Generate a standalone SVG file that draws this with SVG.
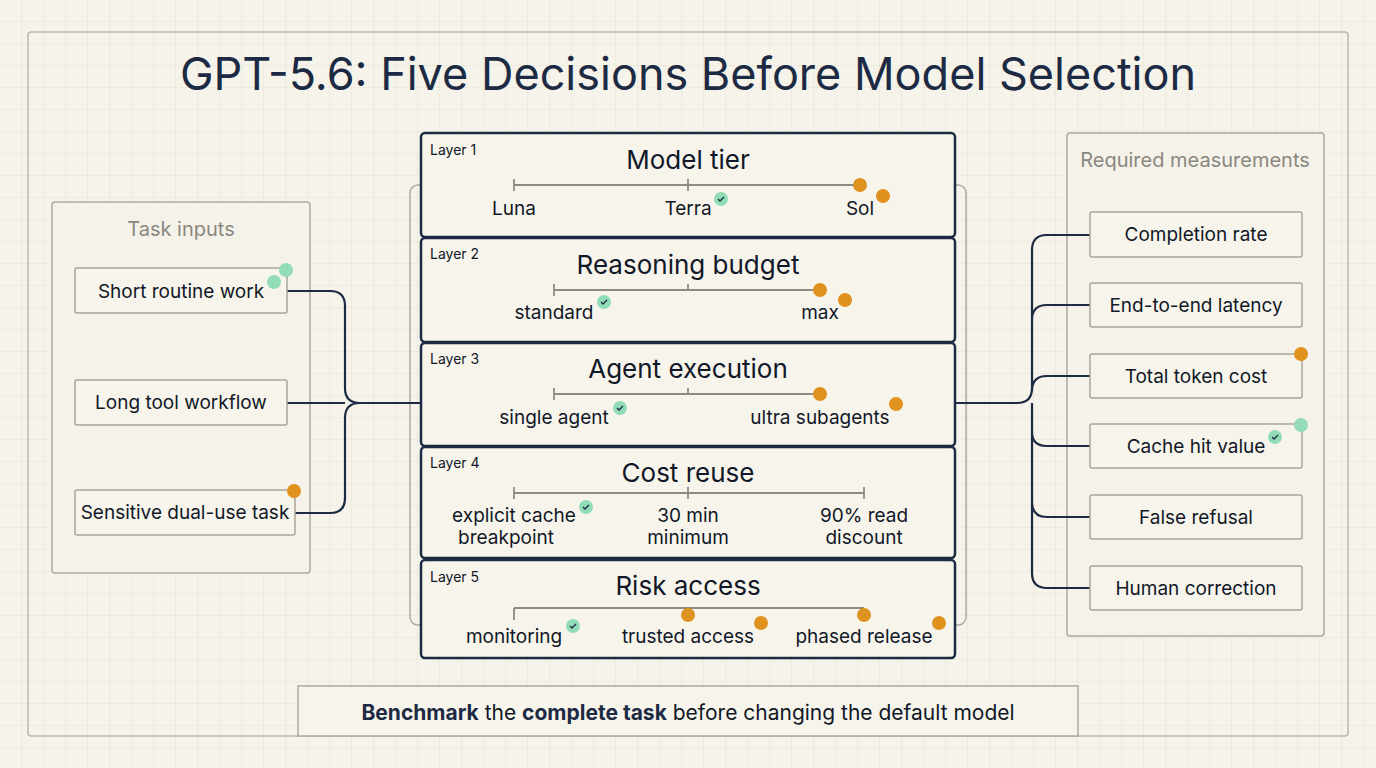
<svg xmlns="http://www.w3.org/2000/svg" width="1376" height="768" viewBox="0 0 1376 768">
<defs>
<pattern id="grid" width="22" height="22" patternUnits="userSpaceOnUse"><path d="M22 0V22H0" fill="none" stroke="#e6e1d2" stroke-width="1"/></pattern>
<style>
text{font-family:"Inter","Liberation Sans",sans-serif;fill:#111827}
.node{fill:#f7f4ec;stroke:#a9a59b;stroke-width:1.5}
.layer{fill:#f7f4ec;stroke:#1c2a44;stroke-width:2.5}
.panel{fill:#f5f2e9;stroke:#aeaaa0;stroke-width:1.5}
.lbl{font-size:19px;text-anchor:middle}
.ttl{font-size:26px;text-anchor:middle}
.lay{font-size:14px}
.bar{stroke:#8f8b82;stroke-width:1.8;fill:none}
.o{fill:#e0921f}
.g{fill:#93dcb8}
.ck{fill:none;stroke:#1c2a44;stroke-width:1.3}
.conn{fill:none;stroke:#1c2a44;stroke-width:2.2}
</style>
</defs>
<rect width="1376" height="768" fill="#f6f3ea"/>
<rect width="1376" height="768" fill="url(#grid)"/>
<rect x="28" y="32" width="1320" height="704" rx="3" fill="none" stroke="#bdb9ae" stroke-width="1.5"/>
<text x="688" y="90" font-size="45" text-anchor="middle" style="fill:#1c2a44">GPT-5.6: Five Decisions Before Model Selection</text>

<g id="left-panel"><rect class="panel" x="52" y="202" width="258" height="371" rx="3"/><text x="181" y="236" font-size="20" text-anchor="middle" style="fill:#8a877f">Task inputs</text></g>
<g id="right-panel"><rect class="panel" x="1067" y="133" width="257" height="503" rx="3"/><text x="1195" y="167" font-size="20" text-anchor="middle" style="fill:#8a877f">Required measurements</text></g>
<rect x="410" y="185" width="556" height="440" rx="8" fill="none" stroke="#aeaaa0" stroke-width="1.5"/>

<g id="connectors">
<path class="conn" d="M287 291H330Q345 291 345 306V388Q345 403 360 403H421M295 513H330Q345 513 345 498V418Q345 403 360 403M287 403H345"/>
<path class="conn" d="M955 403H1017Q1032 403 1032 388V250Q1032 235 1047 235H1090M1032 388V320Q1032 305 1047 305H1090M1032 388V391Q1032 376 1047 376H1090M1032 403V432Q1032 446 1047 446H1090M1032 403V502Q1032 517 1047 517H1090M1032 403V573Q1032 588 1047 588H1090"/>
</g>

<g id="n-short"><rect class="node" x="75" y="268" width="212" height="45" rx="2"/><text class="lbl" x="181" y="298">Short routine work</text><circle class="g" cx="286" cy="270" r="7"/><circle class="g" cx="274" cy="282" r="7"/></g>
<g id="n-long"><rect class="node" x="75" y="380" width="212" height="45" rx="2"/><text class="lbl" x="181" y="409">Long tool workflow</text></g>
<g id="n-sens"><rect class="node" x="75" y="490" width="220" height="45" rx="2"/><text class="lbl" x="185" y="519">Sensitive dual-use task</text><circle class="o" cx="294" cy="491" r="7"/></g>

<g id="layer1"><rect class="layer" x="421" y="133" width="534" height="104" rx="4"/><text class="lay" x="430" y="155">Layer 1</text><text class="ttl" x="688" y="169">Model tier</text>
<path class="bar" d="M514 185H860M514 179V191M688 179V191"/><circle class="o" cx="860" cy="185" r="7"/><circle class="o" cx="883" cy="196" r="7"/>
<text class="lbl" x="514" y="215">Luna</text><text class="lbl" x="688" y="215">Terra</text><text class="lbl" x="860" y="215">Sol</text>
<circle class="g" cx="721" cy="199" r="7"/><path class="ck" d="M718 199l2 2 4-4"/></g>

<g id="layer2"><rect class="layer" x="421" y="238" width="534" height="104" rx="4"/><text class="lay" x="430" y="259">Layer 2</text><text class="ttl" x="688" y="274">Reasoning budget</text>
<path class="bar" d="M554 290H820M554 284V296M688 284V290"/><circle class="o" cx="820" cy="290" r="7"/><circle class="o" cx="845" cy="300" r="7"/>
<text class="lbl" x="554" y="319">standard</text><text class="lbl" x="820" y="319">max</text>
<circle class="g" cx="604" cy="302" r="7"/><path class="ck" d="M601 302l2 2 4-4"/></g>

<g id="layer3"><rect class="layer" x="421" y="343" width="534" height="103" rx="4"/><text class="lay" x="430" y="364">Layer 3</text><text class="ttl" x="688" y="378">Agent execution</text>
<path class="bar" d="M554 394H820M554 388V400M688 388V394"/><circle class="o" cx="820" cy="394" r="7"/><circle class="o" cx="896" cy="404" r="7"/>
<text class="lbl" x="554" y="424">single agent</text><text class="lbl" x="820" y="424">ultra subagents</text>
<circle class="g" cx="620" cy="408" r="7"/><path class="ck" d="M617 408l2 2 4-4"/></g>

<g id="layer4"><rect class="layer" x="421" y="447" width="534" height="111" rx="4"/><text class="lay" x="430" y="468">Layer 4</text><text class="ttl" x="688" y="482">Cost reuse</text>
<path class="bar" d="M514 493H864M514 487V499M688 487V499M864 487V499"/>
<text class="lbl" x="514" y="522">explicit cache</text><text class="lbl" x="506" y="544">breakpoint</text><text class="lbl" x="688" y="522">30 min</text><text class="lbl" x="688" y="544">minimum</text><text class="lbl" x="864" y="522">90% read</text><text class="lbl" x="864" y="544">discount</text>
<circle class="g" cx="586" cy="507" r="7"/><path class="ck" d="M583 507l2 2 4-4"/></g>

<g id="layer5"><rect class="layer" x="421" y="560" width="534" height="98" rx="4"/><text class="lay" x="430" y="582">Layer 5</text><text class="ttl" x="688" y="595">Risk access</text>
<path class="bar" d="M514 608H864M514 608V620"/><circle class="o" cx="688" cy="615" r="7"/><circle class="o" cx="864" cy="615" r="7"/><circle class="o" cx="761" cy="623" r="7"/><circle class="o" cx="939" cy="623" r="7"/>
<text class="lbl" x="514" y="643">monitoring</text><text class="lbl" x="688" y="643">trusted access</text><text class="lbl" x="864" y="643">phased release</text>
<circle class="g" cx="573" cy="626" r="7"/><path class="ck" d="M570 626l2 2 4-4"/></g>

<g id="m1"><rect class="node" x="1090" y="212" width="212" height="45" rx="2"/><text class="lbl" x="1196" y="241">Completion rate</text></g>
<g id="m2"><rect class="node" x="1090" y="283" width="212" height="44" rx="2"/><text class="lbl" x="1196" y="312">End-to-end latency</text></g>
<g id="m3"><rect class="node" x="1090" y="354" width="212" height="44" rx="2"/><text class="lbl" x="1196" y="383">Total token cost</text><circle class="o" cx="1301" cy="354" r="7"/></g>
<g id="m4"><rect class="node" x="1090" y="424" width="212" height="44" rx="2"/><text class="lbl" x="1196" y="453">Cache hit value</text><circle class="g" cx="1301" cy="425" r="7"/><circle class="g" cx="1275" cy="437" r="7"/><path class="ck" d="M1272 437l2 2 4-4"/></g>
<g id="m5"><rect class="node" x="1090" y="495" width="212" height="44" rx="2"/><text class="lbl" x="1196" y="524">False refusal</text></g>
<g id="m6"><rect class="node" x="1090" y="566" width="212" height="44" rx="2"/><text class="lbl" x="1196" y="595">Human correction</text></g>

<g id="footer"><rect x="298" y="686" width="780" height="50" fill="#f7f4ec" stroke="#aeaaa0" stroke-width="1.5"/>
<text x="688" y="720" font-size="21" text-anchor="middle"><tspan font-weight="bold" style="fill:#1c2a44">Benchmark</tspan> the <tspan font-weight="bold" style="fill:#1c2a44">complete task</tspan> before changing the default model</text></g>
</svg>
